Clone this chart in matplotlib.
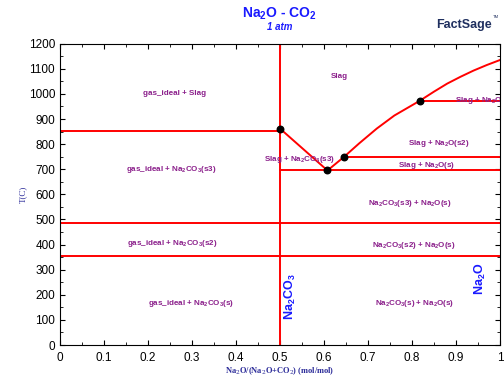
import matplotlib

matplotlib.use("Agg")
import matplotlib.pyplot as plt
from matplotlib.ticker import MultipleLocator

# phase boundaries (x = Na2O/(Na2O+CO2), T in C)
liq_x = [0.5, 0.608, 0.646, 0.68, 0.72, 0.76, 0.818, 0.85, 0.88, 0.91, 0.94, 0.97, 1.0]
liq_t = [862, 695, 750, 803, 862, 914, 973, 1009, 1041, 1068, 1093, 1115, 1135]
left_iso_t = [852, 485, 355]          # from x=0 to x=0.5
right_iso = [(0.5, 695), (0.646, 750), (0.818, 973)]  # from x to 1
dots_x = [0.5, 0.608, 0.646, 0.818]
dots_t = [862, 695, 750, 973]

regions = [
    (0.26, 1000, "gas_ideal + Slag", "center"),
    (0.636, 1068, "Slag", "center"),
    (0.898, 975, "Slag + Na$_2$O(s3)", "left"),
    (0.253, 698, "gas_ideal + Na$_2$CO$_3$(s3)", "center"),
    (0.545, 740, "Slag + Na$_2$CO$_3$(s3)", "center"),
    (0.86, 803, "Slag + Na$_2$O(s2)", "center"),
    (0.834, 713, "Slag + Na$_2$O(s)", "center"),
    (0.795, 562, "Na$_2$CO$_3$(s3) + Na$_2$O(s)", "center"),
    (0.254, 406, "gas_ideal + Na$_2$CO$_3$(s2)", "center"),
    (0.803, 398, "Na$_2$CO$_3$(s2) + Na$_2$O(s)", "center"),
    (0.298, 167, "gas_ideal + Na$_2$CO$_3$(s)", "center"),
    (0.805, 167, "Na$_2$CO$_3$(s) + Na$_2$O(s)", "center"),
]

plt.rcParams["font.family"] = ["Liberation Sans", "DejaVu Sans"]
plt.rcParams["mathtext.fontset"] = "custom"
plt.rcParams["mathtext.rm"] = "Liberation Sans:bold"
plt.rcParams["mathtext.it"] = "Liberation Sans:bold:italic"
plt.rcParams["mathtext.bf"] = "Liberation Sans:bold"

fig = plt.figure(figsize=(5.04, 3.79), dpi=100)
ax = fig.add_axes([0.119, 0.0897, 0.873, 0.795])

red = "#ff0000"
lw = 1.4
ax.axvline(0.5, color=red, lw=lw, zorder=2)
for t in left_iso_t:
    ax.plot([0, 0.5], [t, t], color=red, lw=lw, zorder=2)
for t in left_iso_t[1:]:
    ax.plot([0.5, 1.0], [t, t], color=red, lw=lw, zorder=2)
for x0, t in right_iso:
    ax.plot([x0, 1.0], [t, t], color=red, lw=lw, zorder=2)
ax.plot(liq_x, liq_t, color=red, lw=lw, zorder=2)
ax.scatter(dots_x, dots_t, s=22, color="black", zorder=4)

purple = "#8b1f8b"
for x, t, s, ha in regions:
    ax.text(x, t, s, ha=ha, va="center", fontsize=5.8, fontweight="bold",
            color=purple, clip_on=True)

blue = "#1a1aff"
ax.text(0.524, 192, "Na$_2$CO$_3$", rotation=90, ha="center", va="center",
        fontsize=9, fontweight="bold", color=blue)
ax.text(0.955, 262, "Na$_2$O", rotation=90, ha="center", va="center",
        fontsize=9, fontweight="bold", color=blue)

ax.set_xlim(0, 1)
ax.set_ylim(0, 1200)
ax.xaxis.set_major_locator(MultipleLocator(0.1))
ax.xaxis.set_minor_locator(MultipleLocator(0.05))
ax.yaxis.set_major_locator(MultipleLocator(100))
ax.yaxis.set_minor_locator(MultipleLocator(50))
ax.xaxis.set_major_formatter(lambda v, pos: f"{v:g}")
ax.tick_params(which="both", direction="in", top=True, right=True, labelsize=8.5)
ax.tick_params(which="major", length=3.5)
ax.tick_params(which="minor", length=2)
ax.tick_params(axis="x", pad=5)

label_blue = "#2b2b99"
ax.set_xlabel("Na$_2$O/(Na$_2$O+CO$_2$) (mol/mol)", family="Liberation Serif",
              fontsize=6, fontweight="bold", color=label_blue, labelpad=1,
              math_fontfamily="dejavuserif")
ax.set_ylabel("T(C)", family="Liberation Serif", fontsize=6.5,
              color=label_blue, labelpad=1)

fig.text(0.555, 0.963, "Na$_2$O - CO$_2$", ha="center", va="center",
         fontsize=10, fontweight="bold", color=blue)
fig.text(0.555, 0.928, "1 atm", ha="center", va="center", fontsize=7,
         fontweight="bold", style="italic", color=blue)
fig.text(0.975, 0.935, "FactSage", ha="right", va="center", fontsize=9,
         fontweight="bold", color="#1f2f5f")
fig.text(0.977, 0.955, "TM", ha="left", va="center", fontsize=3,
         color="#1f2f5f")

fig.savefig("out.png", dpi=100)
